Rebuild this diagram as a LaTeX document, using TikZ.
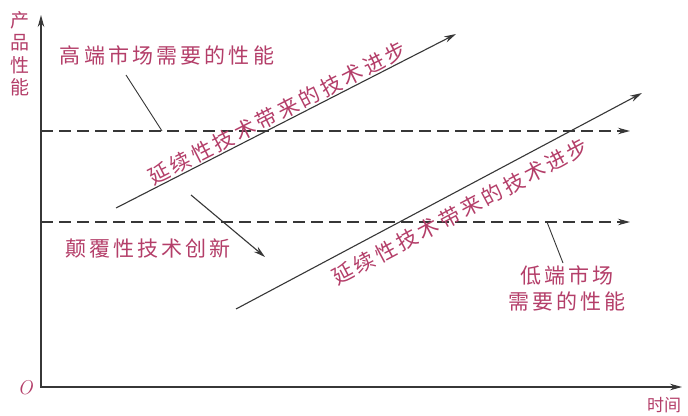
\documentclass[tikz,border=0pt]{standalone}
\usepackage{fontspec}
\newfontfamily\cjk[LetterSpace=15]{Noto Sans CJK SC}
\newfontfamily\cjkn{Noto Sans CJK SC}
\usetikzlibrary{arrows.meta}
\definecolor{txt}{RGB}{180,62,105}
\definecolor{ln}{RGB}{55,55,55}
\begin{document}
\begin{tikzpicture}[x=1pt,y=-1pt,
  lbl/.style={text=txt,font=\cjk\fontsize{21}{26}\selectfont,inner sep=0pt},
  line/.style={draw=ln,line width=1.1pt},
  arr/.style={line,-{Stealth[length=12pt,width=6.5pt]}},
  dashln/.style={arr,dash pattern=on 12pt off 6pt},
  leader/.style={draw=ln,line width=0.9pt}]
\useasboundingbox (0,0) rectangle (688,415);
\fill[white] (0,0) rectangle (688,415);
% axes
\coordinate (ytop) at (41,15);
\coordinate (orig) at (41,387);
\coordinate (xend) at (682,387);
\draw[line,{Stealth[length=12pt,width=6.5pt]}-{Stealth[length=12pt,width=6.5pt]}] (ytop) -- (orig) -- (xend);
\node[text=txt,font=\fontsize{20}{20}\selectfont\itshape,inner sep=0pt] (O) at (25,388) {O};
\node[text=txt,font=\cjkn\fontsize{17}{17}\selectfont,inner sep=0pt] (time) at (664,405) {时间};
\node[text=txt,font=\cjkn\fontsize{19}{22.5}\selectfont,inner sep=0pt,align=center] (ylab) at (20,54) {产\\品\\性\\能};
% dashed performance lines
\coordinate (hi0) at (41,131);
\coordinate (hi1) at (630,131);
\coordinate (lo0) at (41,222);
\coordinate (lo1) at (630,222);
\draw[dashln] (hi0) -- (hi1);
\draw[dashln] (lo0) -- (lo1);
% labels
\node[lbl] (high) at (167,55) {高端市场需要的性能};
\coordinate (hlA) at (126,75);
\coordinate (hlB) at (162,131);
\draw[leader] (hlA) -- (hlB);
\node[lbl] (disrupt) at (148,248) {颠覆性技术创新};
\node[lbl,align=center] (low) at (567,288) {低端市场\\需要的性能};
\coordinate (llA) at (547,222);
\coordinate (llB) at (563,263);
\draw[leader] (llA) -- (llB);
% sustaining arrows
\coordinate (u0) at (116,208);
\coordinate (u1) at (456,34);
\draw[arr] (u0) -- (u1) node[lbl,sloped,pos=0.49,above=1pt] (utext) {延续性技术带来的技术进步};
\coordinate (l0) at (236,309);
\coordinate (l1) at (642,93);
\draw[arr] (l0) -- (l1) node[lbl,sloped,pos=0.53,below=9pt] (ltext) {延续性技术带来的技术进步};
% disruptive arrow
\coordinate (d0) at (191,195);
\coordinate (d1) at (265,257);
\draw[arr] (d0) -- (d1);
\end{tikzpicture}
\end{document}
